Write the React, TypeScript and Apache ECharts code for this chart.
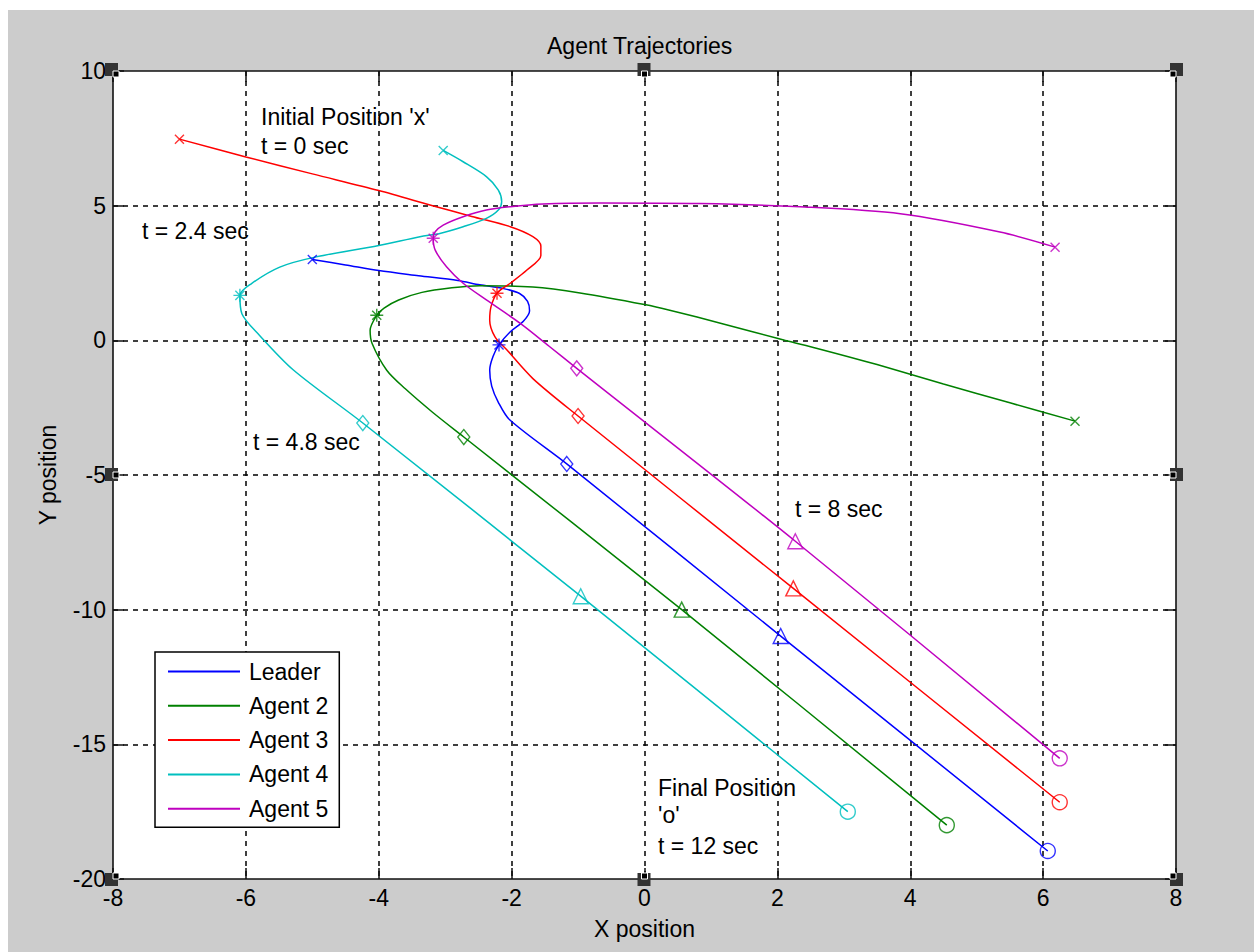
import React, { useEffect, useRef } from "react";
import * as echarts from "echarts";

const FONT = "'Liberation Sans', Arial, Helvetica, sans-serif";
const FS = 23;

// ---------- data ----------
const agentNames = ["Leader", "Agent 2", "Agent 3", "Agent 4", "Agent 5"];
const agentColors = ["#0000ff", "#008000", "#ff0000", "#00bfbf", "#bf00bf"];

const xMin = -8;
const xMax = 8;
const xStep = 2;
const yMin = -20;
const yMax = 10;
const yStep = 5;

// trajectories [x, y]
const leaderPath = [
  [-5.0, 3.0], [-4.5, 2.8], [-4.0, 2.59], [-3.4, 2.4], [-2.81, 2.22], [-2.48, 2.06],
  [-2.12, 1.92], [-1.88, 1.74], [-1.76, 1.45], [-1.73, 1.1], [-1.82, 0.72], [-2.02, 0.32],
  [-2.19, -0.17], [-2.28, -0.6], [-2.33, -1.1], [-2.3, -1.7], [-2.2, -2.3], [-2.03, -2.95],
  [-1.17, -4.59], [2.05, -10.98], [6.07, -18.96],
];
const agent2Path = [
  [6.48, -3.0], [5.5, -2.32], [4.5, -1.62], [3.5, -0.9], [2.6, -0.3], [2.11, 0.0],
  [1.2, 0.6], [0.38, 1.12], [0.0, 1.33], [-0.97, 1.76], [-1.68, 1.98], [-2.48, 2.03],
  [-2.9, 1.95], [-3.35, 1.78], [-3.7, 1.5], [-3.92, 1.2], [-4.03, 0.93], [-4.13, 0.37],
  [-4.1, -0.12], [-3.88, -1.11], [-3.6, -1.8], [-3.2, -2.65], [-2.72, -3.59],
  [0.56, -10.0], [4.55, -18.0],
];
const agent3Path = [
  [-7.0, 7.47], [-6.0, 6.81], [-5.0, 6.18], [-4.0, 5.56], [-3.19, 5.0], [-2.6, 4.6],
  [-2.02, 4.22], [-1.68, 3.85], [-1.56, 3.5], [-1.56, 3.15], [-1.77, 2.61], [-2.02, 2.12],
  [-2.22, 1.75], [-2.31, 1.25], [-2.33, 0.75], [-2.25, 0.13], [-2.07, -0.36],
  [-1.68, -1.42], [-1.0, -2.81], [2.24, -9.21], [6.25, -17.15],
];
const agent4Path = [
  [-3.03, 7.05], [-2.73, 6.63], [-2.38, 6.08], [-2.2, 5.58], [-2.15, 5.15], [-2.2, 4.84],
  [-2.38, 4.53], [-2.73, 4.22], [-3.08, 3.97], [-3.38, 3.85], [-4.0, 3.52], [-4.96, 3.09],
  [-5.49, 2.72], [-5.92, 2.1], [-6.09, 1.67], [-6.06, 0.99], [-5.8, 0.2], [-5.28, -1.11],
  [-4.24, -3.07], [-0.96, -9.5], [3.06, -17.5],
];
const agent5Path = [
  [6.18, 3.46], [5.35, 4.02], [3.85, 4.7], [2.34, 4.96], [0.83, 5.08], [-0.67, 5.1],
  [-1.53, 5.06], [-2.02, 4.96], [-2.38, 4.84], [-2.73, 4.59], [-3.03, 4.28], [-3.15, 4.03],
  [-3.18, 3.79], [-3.15, 3.35], [-2.98, 2.73], [-2.73, 2.12], [-2.38, 1.5], [-1.87, 0.63],
  [-1.44, -0.21], [-1.02, -1.04], [2.27, -7.46], [6.25, -15.52],
];

// markers at t = 0, 2.4, 4.8, 8, 12 sec
const leaderMarks = [[-5.0, 3.0], [-2.19, -0.17], [-1.17, -4.59], [2.05, -10.98], [6.07, -18.96]];
const agent2Marks = [[6.48, -3.0], [-4.03, 0.93], [-2.72, -3.59], [0.56, -10.0], [4.55, -18.0]];
const agent3Marks = [[-7.0, 7.47], [-2.22, 1.75], [-1.0, -2.81], [2.24, -9.21], [6.25, -17.15]];
const agent4Marks = [[-3.03, 7.05], [-6.09, 1.67], [-4.24, -3.07], [-0.96, -9.5], [3.06, -17.5]];
const agent5Marks = [[6.18, 3.46], [-3.18, 3.79], [-1.02, -1.04], [2.27, -7.46], [6.25, -15.52]];

const paths = [leaderPath, agent2Path, agent3Path, agent4Path, agent5Path];
const marks = [leaderMarks, agent2Marks, agent3Marks, agent4Marks, agent5Marks];

const markSymbols = [
  "path://M0,0L10,10M10,0L0,10",
  "path://M5,0L5,10M0,5L10,5M1.5,1.5L8.5,8.5M8.5,1.5L1.5,8.5",
  "diamond",
  "triangle",
  "circle",
];
const markSizes = [9, 13, [12, 15], 15, 15];

// annotations
const annotations = [
  { text: "Initial Position 'x'", x: 261, y: 117 },
  { text: "t = 0 sec", x: 261, y: 146 },
  { text: "t = 2.4 sec", x: 142, y: 231 },
  { text: "t = 4.8 sec", x: 253, y: 442 },
  { text: "t = 8 sec", x: 795, y: 509 },
  { text: "Final Position", x: 658, y: 788 },
  { text: "'o'", x: 658, y: 815 },
  { text: "t = 12 sec", x: 658, y: 846 },
];

// ---------- layout ----------
const G_LEFT = 113;
const G_TOP = 71;
const G_W = 1063;
const G_H = 808;

export default function App() {
  const ref = useRef<HTMLDivElement>(null);

  useEffect(() => {
    if (!ref.current) return;
    const chart = echarts.init(ref.current, null, { renderer: "svg" });

    const axisLine = { show: true, onZero: false, lineStyle: { color: "#111", width: 1.6 } };
    const axisTick = { show: true, inside: true, length: 11, lineStyle: { color: "#111", width: 1.5 } };

    const xBase = { type: "value", min: xMin, max: xMax, interval: xStep, axisLine, axisTick };
    const yBase = { type: "value", min: yMin, max: yMax, interval: yStep, axisLine, axisTick };

    const series: any[] = [];
    paths.forEach((p, i) => {
      series.push({
        type: "line",
        name: agentNames[i],
        data: p,
        showSymbol: false,
        symbol: "none",
        smooth: 0.3,
        lineStyle: { color: agentColors[i], width: 1.5 },
        itemStyle: { color: agentColors[i] },
        z: 3,
      });
    });
    marks.forEach((m, i) => {
      series.push({
        type: "scatter",
        name: agentNames[i] + " markers",
        data: m.map((pt, k) => ({
          value: pt,
          symbol: markSymbols[k],
          symbolSize: markSizes[k],
        })),
        itemStyle: { color: "transparent", borderColor: agentColors[i], borderWidth: 1.4 },
        z: 4,
      });
    });

    const handles: any[] = [];
    const hx = [G_LEFT, G_LEFT + G_W / 2, G_LEFT + G_W];
    const hy = [G_TOP, G_TOP + G_H / 2, G_TOP + G_H];
    hx.forEach((cx, i) => {
      hy.forEach((cy, j) => {
        if (i === 1 && j === 1) return;
        const dx = i === 0 ? 1 : i === 2 ? -1 : 0;
        const dy = j === 0 ? 1 : j === 2 ? -1 : 0;
        handles.push({
          type: "rect",
          shape: { x: cx - 7 - dx * 1, y: cy - 7 - dy * 1, width: 13, height: 13 },
          style: { fill: "#333" },
          z: 100,
        });
        handles.push({
          type: "rect",
          shape: { x: cx - 3 + dx * 3, y: cy - 3 + dy * 3, width: 6, height: 6 },
          style: { fill: "#000", stroke: "#fff", lineWidth: 1 },
          z: 101,
        });
      });
    });

    const option: any = {
      animation: false,
      backgroundColor: "transparent",
      textStyle: { fontFamily: FONT },
      title: {
        text: "Agent Trajectories",
        left: 547,
        top: 34,
        padding: 0,
        textStyle: { fontSize: FS, fontWeight: "normal", color: "#000", fontFamily: FONT, lineHeight: FS },
      },
      grid: {
        left: G_LEFT,
        top: G_TOP,
        width: G_W,
        height: G_H,
        show: true,
        backgroundColor: "#fff",
        borderWidth: 0,
      },
      legend: {
        data: agentNames,
        orient: "vertical",
        left: 155,
        top: 652,
        padding: [8, 11, 7, 13],
        itemGap: 11.3,
        itemWidth: 72,
        itemHeight: 2,
        icon: "rect",
        backgroundColor: "#fff",
        borderColor: "#000",
        borderWidth: 1.5,
        textStyle: { fontSize: FS, lineHeight: FS, color: "#000", fontFamily: FONT, padding: [0, 0, 0, 4] },
      },
      xAxis: [
        {
          ...xBase,
          position: "bottom",
          name: "X position",
          nameLocation: "middle",
          nameGap: 38,
          nameTextStyle: { fontSize: FS, color: "#000", fontFamily: FONT, lineHeight: FS },
          axisLabel: { fontSize: FS, color: "#000", fontFamily: FONT, margin: 7, lineHeight: FS },
          splitLine: {
            show: true,
            showMinLine: false,
            showMaxLine: false,
            lineStyle: { color: "#000", type: [5, 5], width: 1.5 },
          },
        },
        { ...xBase, position: "top", axisLabel: { show: false }, splitLine: { show: false } },
      ],
      yAxis: [
        {
          ...yBase,
          position: "left",
          name: "Y position",
          nameLocation: "middle",
          nameRotate: 90,
          nameGap: 54,
          nameTextStyle: { fontSize: FS, color: "#000", fontFamily: FONT, lineHeight: FS },
          axisLabel: { fontSize: FS, color: "#000", fontFamily: FONT, margin: 7 },
          splitLine: {
            show: true,
            showMinLine: false,
            showMaxLine: false,
            lineStyle: { color: "#000", type: [5, 5], width: 1.5 },
          },
        },
        { ...yBase, position: "right", axisLabel: { show: false }, splitLine: { show: false } },
      ],
      series,
      graphic: [
        ...annotations.map((a) => ({
          type: "text",
          x: a.x,
          y: a.y,
          z: 50,
          style: {
            text: a.text,
            fill: "#000",
            font: `${FS}px ${FONT}`,
            align: "left",
            verticalAlign: "middle",
          },
        })),
        ...handles,
      ],
    };

    chart.setOption(option);
    return () => chart.dispose();
  }, []);

  return (
    <div style={{ position: "absolute", left: 0, top: 0, width: 1254, height: 952, background: "#fff" }}>
      <div style={{ position: "absolute", left: 8, top: 10, width: 1246, height: 942, background: "#cccccc" }} />
      <div ref={ref} style={{ position: "absolute", left: 0, top: 0, width: 1254, height: 952 }} />
    </div>
  );
}
